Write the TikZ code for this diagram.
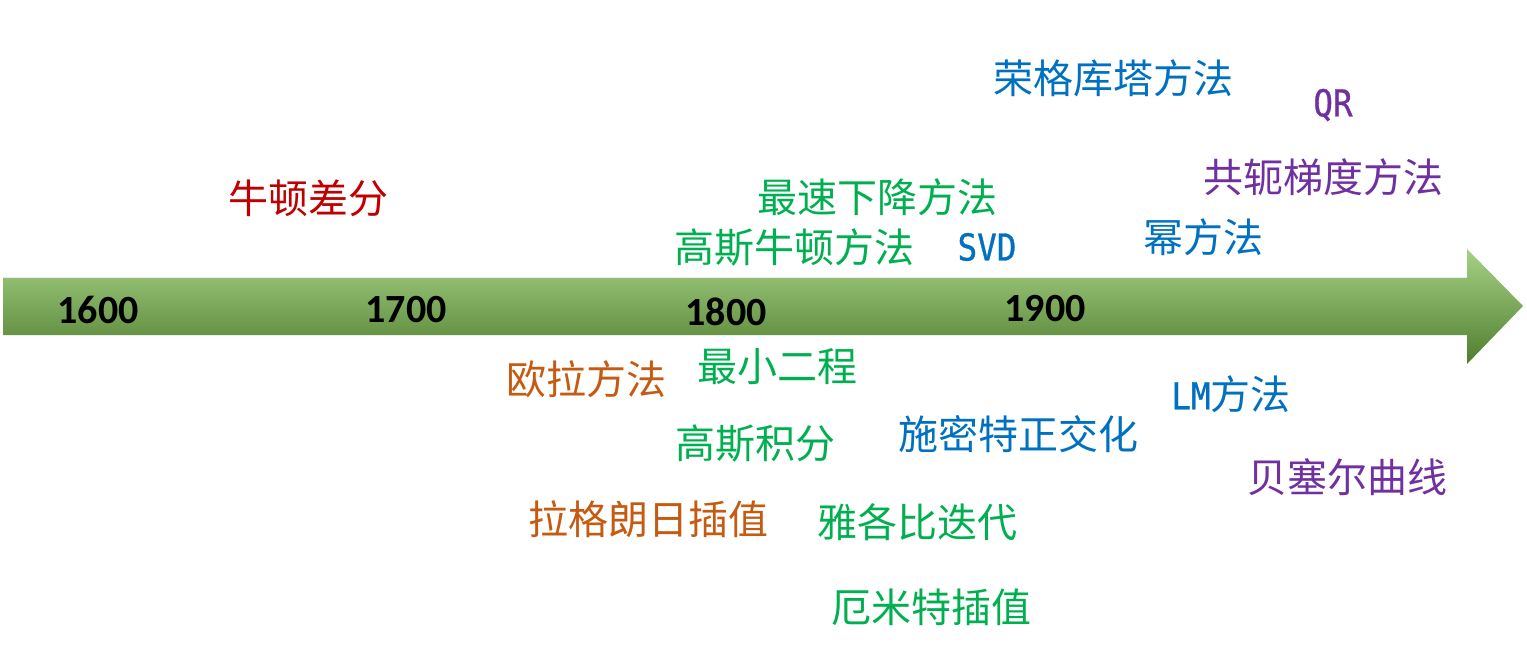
\documentclass[tikz,border=0pt]{standalone}
\usepackage{fontspec}
\newfontfamily\cjk{Noto Sans CJK SC}
\newfontfamily\lat[FakeStretch=0.88,FakeBold=0.8]{DejaVu Sans Mono}
\newfontfamily\yr{Carlito}
\definecolor{cred}{RGB}{192,0,0}
\definecolor{corange}{RGB}{197,90,17}
\definecolor{cgreen}{RGB}{0,176,80}
\definecolor{cblue}{RGB}{0,112,192}
\definecolor{cpurple}{RGB}{112,48,160}
\definecolor{gtop}{RGB}{165,210,135}
\definecolor{gmid}{RGB}{118,178,72}
\definecolor{gbot}{RGB}{80,125,45}
\begin{document}
\begin{tikzpicture}[x=1pt,y=-1pt,
  lbl/.style={inner sep=0pt,anchor=center,font=\cjk\fontsize{40}{44}\selectfont},
  latlbl/.style={lbl,font=\lat\fontsize{37}{42}\selectfont},
  year/.style={inner sep=0pt,anchor=center,font=\yr\bfseries\fontsize{40}{44}\selectfont,text=black}]
\useasboundingbox (0,0) rectangle (1527,650);
\shade[top color=gtop,middle color=gmid,bottom color=gbot]
  (3,277) -- (1467,277) -- (1467,249) -- (1523,306) -- (1467,364) -- (1467,335) -- (3,335) -- cycle;
\draw[white!85!gray,line width=1pt] (3,277.5) -- (1467,277.5);
% years
\node[year] (y1600) at (98,310) {1600};
\node[year] (y1700) at (406,310) {1700};
\node[year] (y1800) at (726,312) {1800};
\node[year] (y1900) at (1045,309) {1900};
% above
\node[lbl,text=cred] (nd) at (308,198) {牛顿差分};
\node[lbl,text=cblue] (rk) at (1113,78) {荣格库塔方法};
\node[latlbl,text=cpurple] (qr) at (1333,105) {QR};
\node[lbl,text=cpurple] (cg) at (1323,177) {共轭梯度方法};
\node[lbl,text=cgreen] (sd) at (877,197) {最速下降方法};
\node[lbl,text=cgreen] (gn) at (794,247) {高斯牛顿方法};
\node[latlbl,text=cblue] (svd) at (987,247) {SVD};
\node[lbl,text=cblue] (pm) at (1203,237) {幂方法};
% below
\node[lbl,text=corange] (eu) at (586,379) {欧拉方法};
\node[lbl,text=cgreen] (ls) at (777,367) {最小二程};
\node[lbl,text=cblue] (lm) at (1231,394) {{\lat\fontsize{37}{42}\selectfont LM}方法};
\node[lbl,text=cblue] (gs) at (1018,434) {施密特正交化};
\node[lbl,text=cgreen] (gi) at (755,444) {高斯积分};
\node[lbl,text=cpurple] (bz) at (1347,477) {贝塞尔曲线};
\node[lbl,text=corange] (lg) at (648,519) {拉格朗日插值};
\node[lbl,text=cgreen] (jc) at (917,522) {雅各比迭代};
\node[lbl,text=cgreen] (hm) at (931,607) {厄米特插值};
\end{tikzpicture}
\end{document}
